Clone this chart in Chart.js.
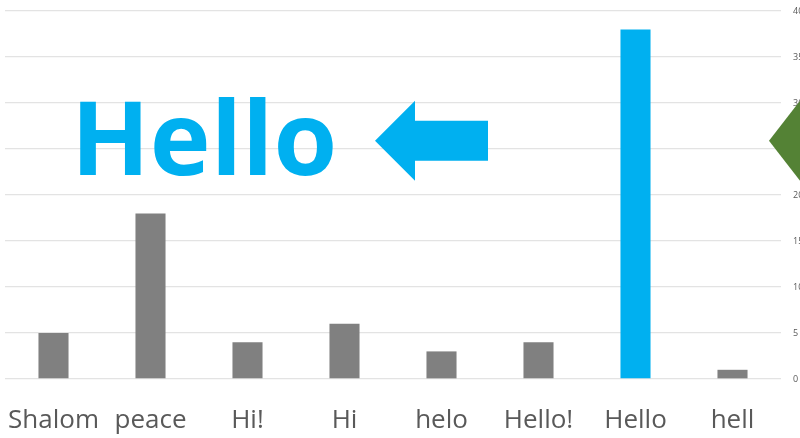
<!DOCTYPE html>
<html>
<head>
<meta charset="utf-8">
<script src="https://cdn.jsdelivr.net/npm/chart.js@4/dist/chart.umd.min.js"></script>
<style>
  html, body { margin: 0; padding: 0; background: #fff; overflow: hidden; width: 800px; height: 438px; }
  #wrap { width: 830px; height: 438px; position: relative; }
</style>
</head>
<body>
<div id="wrap"><canvas id="chart"></canvas></div>
<script>
const labels = ['Shalom', 'peace', 'Hi!', 'Hi', 'helo', 'Hello!', 'Hello', 'hell'];
const counts = [5, 18, 4, 6, 3, 4, 38, 1];
const barColors = ['#808080', '#808080', '#808080', '#808080', '#808080', '#808080', '#00b0f0', '#808080'];
const yTicks = [0, 5, 10, 15, 20, 25, 30, 35, 40];

// callout: big "Hello" with arrow pointing at it, green diamond at the right edge
const callout = {
    id: 'callout',
    afterDatasetsDraw(chart) {
        const ctx = chart.ctx;
        const y = chart.scales.y;
        const area = chart.chartArea;
        const midY = y.getPixelForValue(25.9);
        ctx.save();
        ctx.fillStyle = '#00b0f0';
        ctx.font = 'bold 103px "Open Sans"';
        ctx.textBaseline = 'alphabetic';
        ctx.fillText('Hello', area.left + 66, y.getPixelForValue(22.2));

        // arrow
        const tip = area.left + 370;
        ctx.beginPath();
        ctx.moveTo(tip, midY);
        ctx.lineTo(tip + 40, midY - 40);
        ctx.lineTo(tip + 40, midY - 20);
        ctx.lineTo(tip + 113, midY - 20);
        ctx.lineTo(tip + 113, midY + 20);
        ctx.lineTo(tip + 40, midY + 20);
        ctx.lineTo(tip + 40, midY + 40);
        ctx.closePath();
        ctx.fill();

        // diamond
        const dx = area.right - 12;
        ctx.fillStyle = '#548235';
        ctx.beginPath();
        ctx.moveTo(dx, midY);
        ctx.lineTo(dx + 31, midY - 40);
        ctx.lineTo(dx + 62, midY);
        ctx.lineTo(dx + 31, midY + 40);
        ctx.closePath();
        ctx.fill();
        ctx.restore();
    }
};

new Chart(document.getElementById('chart').getContext('2d'), {
    type: 'bar',
    data: {
        labels: labels,
        datasets: [{ data: counts, backgroundColor: barColors, barPercentage: 0.31, categoryPercentage: 1 }]
    },
    options: {
        responsive: true,
        maintainAspectRatio: false,
        animation: false,
        layout: { autoPadding: false, padding: { left: 5, top: 11, right: 0, bottom: 0 } },
        plugins: { legend: { display: false }, tooltip: { enabled: false } },
        scales: {
            x: {
                grid: { display: false },
                border: { display: false },
                ticks: { color: '#595959', font: { family: 'Open Sans', size: 26 }, padding: 18, maxRotation: 0, autoSkip: false },
                afterFit: s => { s.height = 59; s.paddingLeft = 0; s.paddingRight = 0; }
            },
            y: {
                position: 'right',
                min: 0, max: 40,
                afterBuildTicks: s => { s.ticks = yTicks.map(v => ({ value: v })); },
                grid: { color: '#e3e3e3', lineWidth: 1.3, drawTicks: false },
                border: { display: false },
                ticks: { color: '#595959', font: { family: 'Open Sans', size: 9 }, padding: 12, align: 'center' },
                afterFit: s => { s.width = 49; s.paddingTop = 0; s.paddingBottom = 0; }
            }
        }
    },
    plugins: [callout]
});
</script>
</body>
</html>
